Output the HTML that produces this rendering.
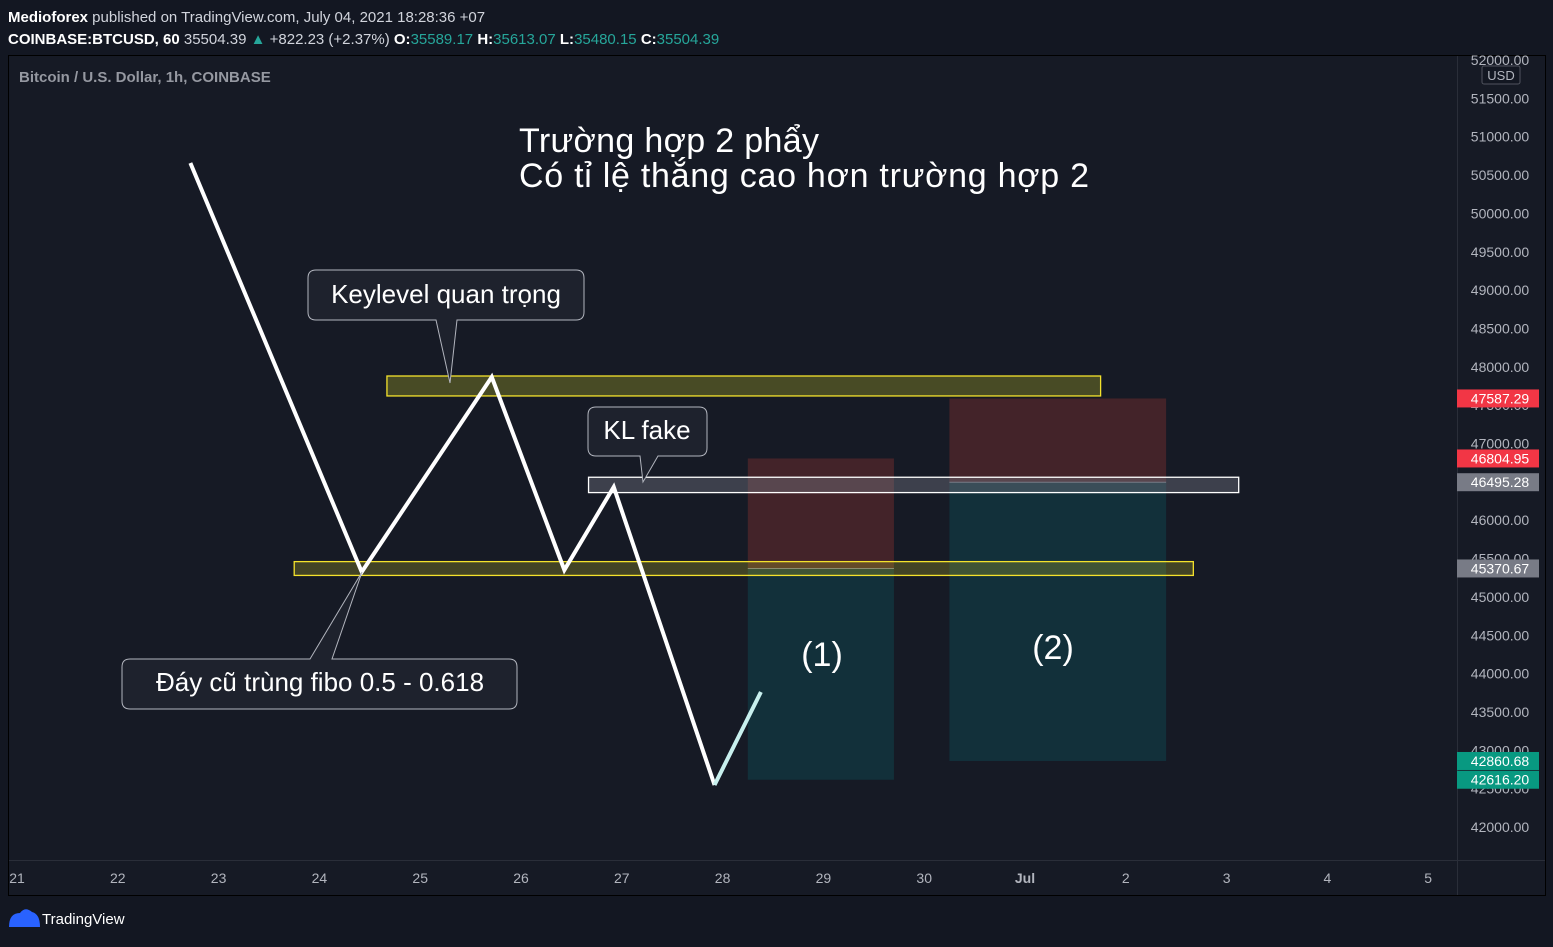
<!DOCTYPE html>
<html><head><meta charset="utf-8"><style>
body{margin:0;background:#131722;width:1553px;height:942px;overflow:hidden;font-family:"Liberation Sans","Noto Sans CJK SC",sans-serif}
</style></head><body>
<svg width="1553" height="942" xmlns="http://www.w3.org/2000/svg">
<rect x="0" y="0" width="1553" height="942" fill="#131722"/>
<text x="8" y="22" font-size="15" fill="#d1d4dc"><tspan font-weight="bold" fill="#fff">Medioforex</tspan> published on TradingView.com, July 04, 2021 18:28:36 +07</text>
<text x="8" y="44" font-size="15" fill="#d1d4dc"><tspan font-weight="bold" fill="#fff">COINBASE:BTCUSD, 60</tspan> 35504.39 <tspan fill="#26a69a">▲</tspan> +822.23 (+2.37%) <tspan font-weight="bold" fill="#fff">O:</tspan><tspan fill="#26a69a">35589.17</tspan> <tspan font-weight="bold" fill="#fff">H:</tspan><tspan fill="#26a69a">35613.07</tspan> <tspan font-weight="bold" fill="#fff">L:</tspan><tspan fill="#26a69a">35480.15</tspan> <tspan font-weight="bold" fill="#fff">C:</tspan><tspan fill="#26a69a">35504.39</tspan></text>
<rect x="8.5" y="55.5" width="1537" height="840" fill="#161a25" stroke="#000"/>
<line x1="1457.5" y1="56" x2="1457.5" y2="895" stroke="#2a2e39"/>
<line x1="9" y1="860.5" x2="1545" y2="860.5" stroke="#2a2e39"/>
<text x="19" y="82" font-size="15" font-weight="bold" fill="#9598a1">Bitcoin / U.S. Dollar, 1h, COINBASE</text>
<g id="axes"></g>
<g id="marks"></g>
<g font-size="26" fill="#fff">
<path d="M316 270 H576 Q584 270 584 278 V312 Q584 320 576 320 H457 L450 383 L436 320 H316 Q308 320 308 312 V278 Q308 270 316 270Z" fill="#1e222d" stroke="#b2b5be"/>
<text x="446" y="303" text-anchor="middle" fill="#fff">Keylevel quan trọng</text>
<path d="M596 407 H699 Q707 407 707 415 V448 Q707 456 699 456 H658 L643 482 L640 456 H596 Q588 456 588 448 V415 Q588 407 596 407Z" fill="#1e222d" stroke="#b2b5be"/>
<text x="647" y="439" text-anchor="middle" fill="#fff">KL fake</text>
<path d="M130 659 H310 L362 572 L332 659 H509 Q517 659 517 667 V701 Q517 709 509 709 H130 Q122 709 122 701 V667 Q122 659 130 659Z" fill="#1e222d" stroke="#b2b5be"/>
<text x="320" y="691" text-anchor="middle" fill="#fff">Đáy cũ trùng fibo 0.5 - 0.618</text>
</g>
<text x="519" y="152" font-size="34" fill="#fff" textLength="300">Trường hợp 2 phẩy</text>
<text x="519" y="187" font-size="34" fill="#fff" textLength="570">Có tỉ lệ thắng cao hơn trường hợp 2</text>
<text x="822" y="666" font-size="34" fill="#fff" text-anchor="middle">(1)</text>
<text x="1053" y="659" font-size="34" fill="#fff" text-anchor="middle">(2)</text>
<g>
<path d="M9 927 Q9 913 20 913 Q25 906 32 912 Q40 914 40 927Z" fill="#2962ff"/>
<text x="42" y="924" font-size="15" fill="#fff">TradingView</text>
</g>
</svg>
<script>
const NS='http://www.w3.org/2000/svg';
const priceTicks=[52000,51500,51000,50500,50000,49500,49000,48500,48000,47500,47000,46500,46000,45500,45000,44500,44000,43500,43000,42500,42000];
const dayLabels=['21','22','23','24','25','26','27','28','29','30','Jul','2','3','4','5'];
const pathDays=[1.72,3.42,4.71,5.43,5.92,6.92];
const pathPrices=[50657,45325,47867,45351,46433,42548];
const tailDays=[6.92,7.38];
const tailPrices=[42548,43760];
const zoneStart=[2.75,3.67,5.67];
const zoneEnd=[11.67,10.75,12.12];
const zoneTop=[45460,47880,46560];
const zoneBottom=[45280,47620,46360];
const posStart=[7.25,9.25];
const posEnd=[8.7,11.4];
const posStop=[46804.95,47587.29];
const posEntry=[45370.67,46495.28];
const posTarget=[42616.20,42860.68];
const priceLabels=[47587.29,46804.95,46495.28,45370.67,42860.68,42616.20];
const priceLabelKinds=['red','red','grey','grey','green','green'];
function X(d){return 17+d*100.8;}
function Y(p){return 827-(p-42000)*0.0767;}
function el(t,a,parent){const e=document.createElementNS(NS,t);for(const k in a)e.setAttribute(k,a[k]);parent.appendChild(e);return e;}
const axes=document.getElementById('axes'),marks=document.getElementById('marks');
priceTicks.forEach(p=>{const t=el('text',{x:1500,y:Y(p)+5,'font-size':14,fill:'#b2b5be','text-anchor':'middle'},axes);t.textContent=p.toFixed(2);

});
dayLabels.forEach((l,i)=>{const t=el('text',{x:X(i),y:883,'font-size':14,fill:'#b2b5be','text-anchor':'middle','font-weight':l==='Jul'?'bold':'normal'},axes);t.textContent=l;

});
posStart.forEach((s,i)=>{
const r=el('rect',{x:X(s),y:Y(posStop[i]),width:X(posEnd[i])-X(s),height:Y(posEntry[i])-Y(posStop[i]),fill:'#432329'},marks);


const g=el('rect',{x:X(s),y:Y(posEntry[i]),width:X(posEnd[i])-X(s),height:Y(posTarget[i])-Y(posEntry[i]),fill:'#12303a'},marks);


const l=el('line',{x1:X(s),x2:X(posEnd[i]),y1:Y(posEntry[i]),y2:Y(posEntry[i]),stroke:'#787b86'},marks);

});
const zFill=['rgba(200,190,40,0.25)','rgba(190,190,40,0.3)','rgba(120,123,134,0.4)'];
const zStroke=['#f4e22c','#f4e22c','#ffffff'];
zoneStart.forEach((s,i)=>{const r=el('rect',{x:X(s),y:Y(zoneTop[i]),width:X(zoneEnd[i])-X(s),height:Y(zoneBottom[i])-Y(zoneTop[i]),fill:zFill[i],stroke:zStroke[i],'stroke-width':1.3},marks);

});
const pl=el('polyline',{points:pathDays.map((d,i)=>X(d)+','+Y(pathPrices[i])).join(' '),fill:'none',stroke:'#fff','stroke-width':4,'stroke-linejoin':'miter'},marks);


const tl=el('polyline',{points:tailDays.map((d,i)=>X(d)+','+Y(tailPrices[i])).join(' '),fill:'none',stroke:'#c8f0ee','stroke-width':4},marks);


const cols={red:'#f23645',grey:'#787b86',green:'#089981'};
priceLabels.forEach((p,i)=>{const g=el('g',{},axes);


el('rect',{x:1457,y:Y(p)-9,width:82,height:18,fill:cols[priceLabelKinds[i]]},g);
const t=el('text',{x:1500,y:Y(p)+5,'font-size':14,fill:'#fff','text-anchor':'middle'},g);t.textContent=p.toFixed(2);});
const u=el('rect',{x:1482,y:66,width:38,height:18,fill:'#131722',stroke:'#50535e',rx:2},axes);


const ut=el('text',{x:1501,y:80,'font-size':13,fill:'#b2b5be','text-anchor':'middle'},axes);ut.textContent='USD';


</script>
</body></html>
